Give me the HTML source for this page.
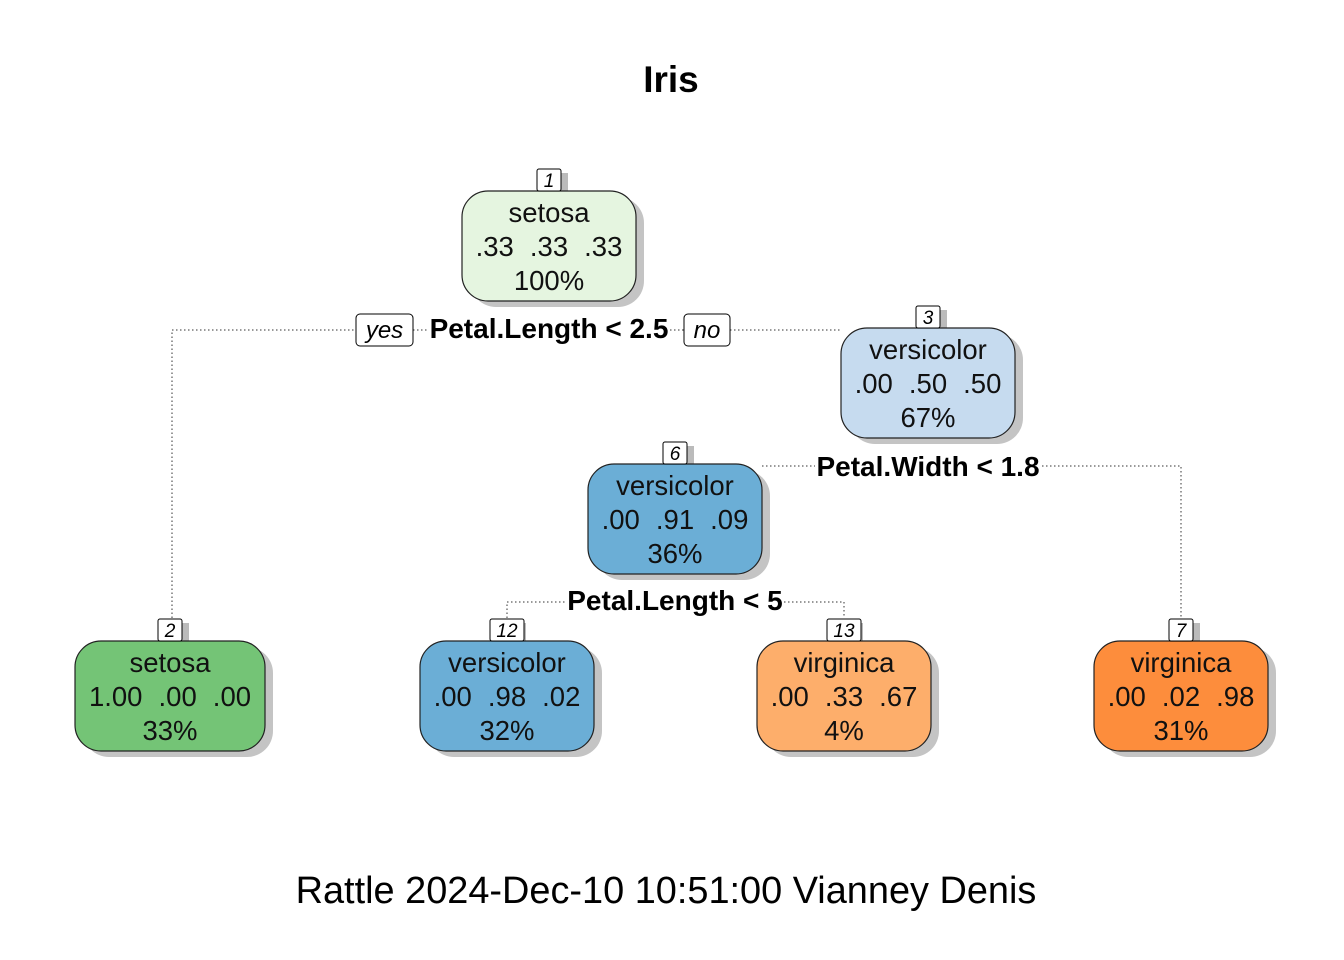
<!DOCTYPE html>
<html><head><meta charset="utf-8"><style>
html,body{margin:0;padding:0;background:#fff;}
svg{display:block;font-family:"Liberation Sans",Arial,sans-serif;}
</style></head><body>
<svg id="chart" width="1344" height="960" viewBox="0 0 1344 960">
<text x="671" y="92" font-size="37" font-weight="bold" text-anchor="middle">Iris</text>
<text x="666" y="903" font-size="37.9" text-anchor="middle">Rattle 2024-Dec-10 10:51:00 Vianney Denis</text>
<g id="edges"></g>
<g id="nodes"></g>
</svg>
<script>
const nodeIds = ["1","3","6","2","12","13","7"];
const nodeClasses = ["setosa","versicolor","versicolor","setosa","versicolor","virginica","virginica"];
const nodeProbs = [[".33",".33",".33"],[".00",".50",".50"],[".00",".91",".09"],["1.00",".00",".00"],[".00",".98",".02"],[".00",".33",".67"],[".00",".02",".98"]];
const nodePercents = ["100%","67%","36%","33%","32%","4%","31%"];
const nodeFills = ["#e5f5e0","#c6dbef","#6baed6","#74c476","#6baed6","#fdae6b","#fd8d3c"];
const nodeCx = [549,928,675,170,507,844,1181];
const nodeTop = [191,328,464,641,641,641,641];
const nodeW = [174,174,174,190,174,174,174];
const splitLabels = ["Petal.Length < 2.5","Petal.Width < 1.8","Petal.Length < 5"];

const NS="http://www.w3.org/2000/svg";
function mk(tag,attrs,parent){const e=document.createElementNS(NS,tag);for(const k in attrs)e.setAttribute(k,attrs[k]);parent.appendChild(e);return e;}
const gE=document.getElementById('edges'), gN=document.getElementById('nodes');
const dot={stroke:"#333","stroke-width":1,"stroke-dasharray":"1.5,2.5",fill:"none"};
function poly(pts,name){const p=mk('polyline',Object.assign({points:pts.map(a=>a.join(',')).join(' ')},dot),gE);

}
poly([[172,618],[172,330],[356,330]],'edge-1-to-2');
poly([[413,330],[428,330]],'edge-1-yes-link');
poly([[670,330],[684,330]],'edge-1-no-link');
poly([[730,330],[841,330]],'edge-1-to-3');
poly([[762,466],[815,466]],'edge-3-to-6');
poly([[1042,466],[1181,466],[1181,618]],'edge-3-to-7');
poly([[507,618],[507,602],[567,602]],'edge-6-to-12');
poly([[784,602],[844,602],[844,618]],'edge-6-to-13');
const splitPos=[[549,338],[928,476],[675,610]];
splitLabels.forEach((s,i)=>{const t=mk('text',{x:splitPos[i][0],y:splitPos[i][1],'font-size':28,'font-weight':'bold','text-anchor':'middle'},gE);t.textContent=s;

});
[["yes",356,413],["no",684,730]].forEach(([s,x0,x1])=>{
const r=mk('rect',{x:x0,y:314,width:x1-x0,height:32,rx:4,fill:'#fff',stroke:'#000'},gE);


const t=mk('text',{x:(x0+x1)/2,y:338,'font-size':24,'font-style':'italic','text-anchor':'middle'},gE);t.textContent=s;

});
nodeIds.forEach((id,i)=>{
const g=mk('g',{},gN);


const x0=nodeCx[i]-nodeW[i]/2, y0=nodeTop[i], h=110;
mk('rect',{x:nodeCx[i]-12+7,y:y0-22+4,width:24,height:22,fill:'#bbb'},g);
mk('rect',{x:x0+8,y:y0+6,width:nodeW[i],height:h,rx:26,fill:'#c4c4c4'},g);
const r=mk('rect',{x:x0,y:y0,width:nodeW[i],height:h,rx:26,fill:nodeFills[i],stroke:'#222','stroke-width':1.2},g);


const lb=mk('rect',{x:nodeCx[i]-12-(id.length>1?5:0),y:y0-22,width:24+(id.length>1?10:0),height:22,rx:2,fill:'#fff',stroke:'#000'},g);


const nt=mk('text',{x:nodeCx[i],y:y0-4,'font-size':19,'font-style':'italic','text-anchor':'middle'},g);nt.textContent=id;
const lines=[nodeClasses[i],nodeProbs[i].join('\u2002\u200a'),nodePercents[i]];
lines.forEach((s,j)=>{const t=mk('text',{x:nodeCx[i],y:y0+31+34*j,'font-size':27.5,'text-anchor':'middle',fill:'#111','xml:space':'preserve'},g);t.textContent=s;

});
});
</script>
</body></html>
